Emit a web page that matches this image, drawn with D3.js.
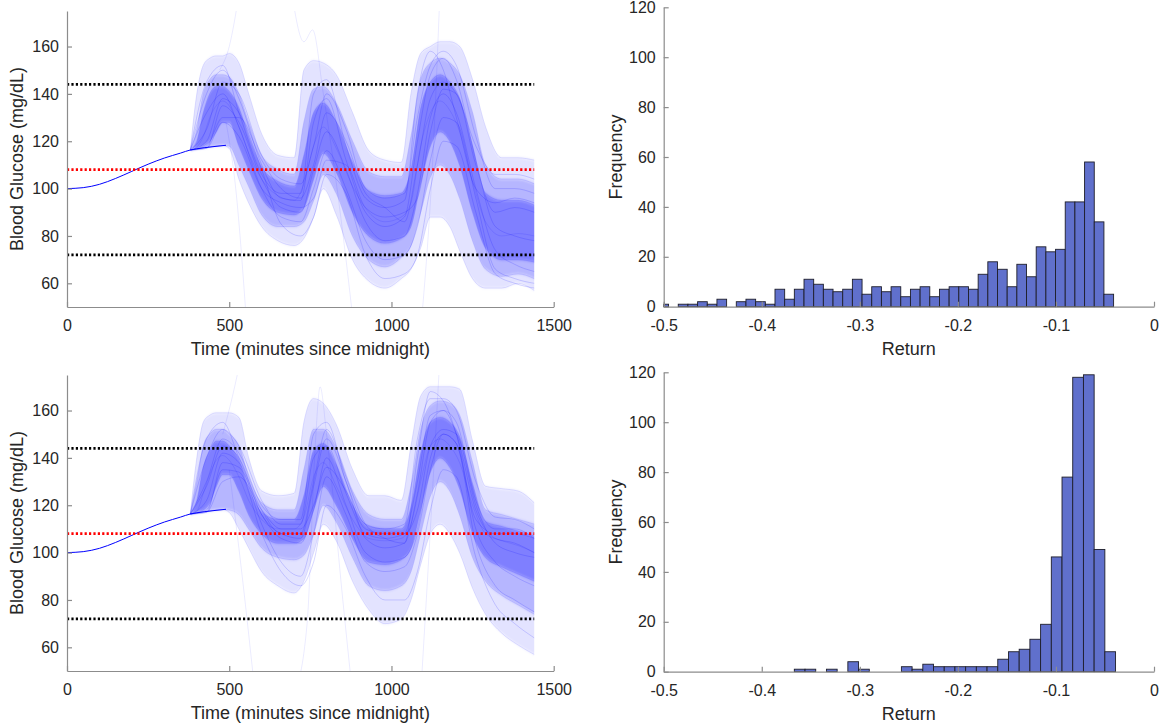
<!DOCTYPE html>
<html>
<head>
<meta charset="utf-8">
<script src="https://cdn.jsdelivr.net/npm/d3@7"></script>
<style>
  body { margin: 0; background: #fff; }
  svg { font-family: "Liberation Sans", Arial, sans-serif; }
</style>
</head>
<body>
<svg id="chart" width="1163" height="725"></svg>
<script>
// ---- data ----
const timeTicks = [0, 500, 1000, 1500];
const glucoseTicks = [60, 80, 100, 120, 140, 160];
const freqTicks = [0, 20, 40, 60, 80, 100, 120];
const returnTicks = [-0.5, -0.4, -0.3, -0.2, -0.1, 0];
const targetLevels = [144, 108, 72];

// shared pre-meal curve (minutes, mg/dL)
const baseTime = [0, 50, 100, 150, 200, 250, 300, 350, 380, 400, 450, 490];
const baseGlucose = [100, 100.4, 101.8, 104.3, 107.3, 110.3, 112.9, 115, 116.3, 116.8, 117.7, 118.3];

// spread of the simulated trajectories (min / p10 / p25 / p50 / p75 / p90 / max)
const bandTime = [380, 400, 420, 440, 460, 480, 500, 530, 560, 600, 650, 700, 730, 760, 790, 830, 880, 930, 980, 1030, 1060, 1090, 1120, 1150, 1180, 1210, 1250, 1290, 1340, 1390, 1440];

const topMax = [116.3, 140, 152, 155, 156, 156, 157, 153, 140, 123, 114, 113, 150, 154, 153, 148, 132, 116, 112, 111, 140, 157, 160, 162, 162, 160, 146, 126, 113, 113, 112];
const topP90 = [116.3, 125, 140, 146, 148, 148, 147, 140, 128, 114, 108, 106, 128, 142, 143, 136, 120, 107, 105, 105, 122, 146, 153, 155, 153, 148, 132, 110, 104, 104, 102];
const topP75 = [116.3, 120, 132, 140, 143, 143, 141, 134, 122, 109, 103, 101, 114, 132, 136, 128, 111, 99, 97, 98, 108, 134, 145, 148, 145, 138, 118, 98, 95, 95, 93];
const topP50 = [116.3, 117.5, 122, 130, 135, 137, 135, 126, 115, 104, 97, 95, 102, 118, 126, 117, 101, 90, 86, 88, 94, 118, 132, 137, 133, 124, 103, 86, 80, 81, 80];
const topP25 = [116.3, 117, 118, 120, 124, 128, 128, 118, 108, 96, 90, 89, 92, 104, 115, 107, 90, 80, 77, 79, 84, 102, 118, 124, 120, 110, 90, 75, 70, 70, 69];
const topP10 = [116.3, 116.8, 117.2, 117.6, 118, 118.2, 118, 110, 101, 89, 84, 84, 86, 95, 106, 98, 80, 70, 67, 71, 76, 90, 105, 110, 106, 96, 78, 66, 63, 64, 62];
const topMin = [116.3, 116.8, 117.2, 117.6, 118, 118.2, 117, 104, 94, 84, 78, 76, 79, 88, 100, 89, 70, 61, 58, 62, 66, 75, 88, 88, 84, 74, 62, 58, 58, 60, 57];

const bottomMax = [116.3, 140, 155, 158, 159, 159, 159, 157, 140, 126, 124, 125, 155, 165, 163, 154, 135, 124, 124, 122, 145, 166, 170, 170, 170, 169, 147, 128, 127, 126, 121];
const bottomP90 = [116.3, 130, 145, 150, 152, 152, 150, 145, 132, 121, 118, 118, 135, 152, 152, 144, 126, 116, 114, 114, 128, 152, 162, 164, 163, 158, 138, 118, 116, 114, 112];
const bottomP75 = [116.3, 122, 136, 143, 147, 147, 145, 139, 127, 117, 114, 114, 124, 143, 146, 137, 120, 111, 110, 110, 119, 142, 155, 157, 155, 149, 129, 113, 111, 109, 107];
const bottomP50 = [116.3, 117.5, 125, 133, 139, 141, 139, 132, 122, 114, 110, 110, 115, 132, 138, 128, 114, 106, 105, 106, 112, 130, 145, 148, 145, 138, 120, 108, 105, 103, 100];
const bottomP25 = [116.3, 117, 118, 121, 128, 133, 133, 126, 116, 108, 104, 104, 106, 118, 128, 120, 106, 96, 95, 97, 102, 118, 134, 140, 136, 127, 108, 98, 94, 91, 88];
const bottomP10 = [116.3, 116.8, 117.2, 117.6, 118, 118.2, 118, 116, 110, 102, 98, 97, 99, 108, 120, 113, 98, 86, 84, 86, 92, 108, 124, 130, 126, 116, 98, 88, 82, 78, 74];
const bottomMin = [116.3, 116.8, 117.2, 117.6, 118, 118.2, 117, 110, 102, 92, 86, 83, 88, 100, 112, 105, 88, 76, 70, 72, 80, 95, 108, 112, 108, 100, 85, 74, 66, 61, 57];

// a handful of individual trajectories
const traceTime = [380, 430, 480, 530, 600, 660, 720, 760, 800, 860, 920, 980, 1040, 1080, 1120, 1160, 1200, 1260, 1320, 1380, 1440];
const topTraces = [
  [116.3, 140, 150, 138, 110, 96, 95, 128, 138, 112, 90, 84, 88, 120, 148, 155, 146, 112, 84, 80, 78],
  [116.3, 117, 135, 128, 104, 92, 90, 108, 124, 108, 86, 78, 80, 98, 130, 140, 132, 100, 74, 68, 65],
  [116.3, 132, 140, 126, 100, 88, 86, 100, 116, 100, 78, 70, 72, 84, 112, 130, 128, 96, 66, 62, 60],
  [116.3, 125, 145, 140, 114, 104, 102, 118, 140, 125, 100, 96, 98, 130, 152, 158, 152, 122, 100, 100, 98],
  [116.3, 117, 128, 122, 100, 94, 92, 96, 112, 110, 92, 88, 90, 96, 124, 142, 140, 110, 90, 92, 90],
  [116.3, 145, 152, 132, 106, 98, 98, 140, 146, 118, 96, 92, 95, 140, 158, 150, 130, 100, 94, 96, 94],
  [116.3, 120, 138, 132, 108, 85, 80, 88, 106, 98, 72, 62, 64, 72, 100, 120, 118, 90, 64, 60, 58],
  [116.3, 118, 130, 130, 112, 100, 96, 110, 132, 120, 98, 92, 86, 110, 138, 145, 140, 118, 106, 106, 104]
];
const bottomTraces = [
  [116.3, 140, 152, 145, 122, 112, 112, 140, 145, 125, 108, 106, 108, 130, 158, 160, 150, 118, 106, 104, 100],
  [116.3, 117, 138, 136, 116, 106, 104, 118, 140, 120, 100, 96, 98, 110, 140, 150, 146, 110, 96, 90, 86],
  [116.3, 130, 148, 142, 120, 114, 114, 150, 155, 130, 112, 110, 112, 148, 165, 165, 160, 130, 115, 114, 110],
  [116.3, 122, 142, 138, 112, 96, 90, 108, 132, 116, 96, 92, 94, 108, 135, 150, 146, 104, 86, 80, 75],
  [116.3, 117, 130, 132, 118, 110, 110, 120, 136, 126, 110, 108, 108, 118, 145, 152, 150, 120, 104, 100, 98],
  [116.3, 148, 155, 140, 118, 108, 108, 130, 152, 132, 112, 106, 104, 140, 168, 164, 150, 114, 108, 108, 106],
  [116.3, 118, 135, 134, 108, 92, 86, 96, 120, 110, 90, 80, 80, 92, 118, 135, 132, 98, 78, 70, 64],
  [116.3, 128, 145, 140, 116, 108, 106, 128, 148, 130, 106, 102, 104, 125, 155, 160, 155, 122, 110, 110, 106]
];
// stray trajectories that leave the plotted range
const topOutliers = [
  [[470, 150], [500, 160], [530, 182]],
  [[490, 128], [520, 100], [555, 40]],
  [[690, 185], [730, 162], [757, 167], [790, 140], [860, 70], [885, 40]],
  [[1090, 40], [1130, 120], [1150, 185]]
];
const bottomOutliers = [
  [[480, 150], [510, 166], [540, 185]],
  [[500, 135], [540, 90], [580, 40]],
  [[700, 40], [740, 70], [765, 145], [780, 170], [800, 150], [850, 80], [880, 40]],
  [[1090, 40], [1120, 110], [1150, 185]]
];

// histograms of the return
const topBinStart = -0.5049;
const topBinWidth = 0.009866;
const topCounts = [1, 0, 1, 1, 2, 1, 3, 0, 2, 3, 2, 1, 7, 3, 7, 11, 9, 7, 6, 7, 11, 5, 8, 6, 8, 4, 7, 8, 4, 7, 8, 8, 7, 13, 18, 15, 8, 17, 12, 24, 22, 23, 42, 42, 58, 34, 5];
const bottomBinStart = -0.3668;
const bottomBinWidth = 0.01092;
const bottomCounts = [1, 1, 0, 1, 0, 4, 1, 0, 0, 0, 2, 1, 3, 2, 2, 2, 2, 2, 2, 5, 8, 9, 13, 19, 46, 78, 118, 119, 49, 8];

// ---- layout ----
const boxes = {
  glucoseTop: {left: 67, right: 553.7, top: 11, bottom: 307},
  glucoseBottom: {left: 67, right: 553.7, top: 375, bottom: 671},
  histTop: {left: 663.7, right: 1154, top: 7.3, bottom: 306.7},
  histBottom: {left: 663.7, right: 1154, top: 372.3, bottom: 671.7}
};
const axisColor = "#8c8c8c";
const textColor = "#262626";

const svg = d3.select("#chart");
const defs = svg.append("defs");
// vertical-only softening so the band ends at 1440 stay crisp
defs.append("filter")
    .attr("id", "soft")
    .attr("x", "0%").attr("y", "-5%")
    .attr("width", "100%").attr("height", "110%")
  .append("feGaussianBlur")
    .attr("stdDeviation", "0 1.5");

function styleAxis(g) {
  g.select(".domain").attr("stroke", axisColor).attr("stroke-width", 1.2);
  g.selectAll(".tick line").attr("stroke", axisColor).attr("stroke-width", 1.2);
  g.selectAll(".tick text").attr("fill", textColor).attr("font-size", 16);
  g.attr("font-family", null);
}

function drawAxes(box, x, y, xTicks, yTicks, xFmt, xLabel, yLabel, yLabelX) {
  svg.append("g")
      .attr("transform", `translate(0, ${box.bottom})`)
      .call(d3.axisBottom(x).tickValues(xTicks).tickFormat(xFmt)
        .tickSizeInner(-5).tickSizeOuter(0).tickPadding(13))
      .call(styleAxis);
  svg.append("g")
      .attr("transform", `translate(${box.left}, 0)`)
      .call(d3.axisLeft(y).tickValues(yTicks).tickFormat(d3.format("d"))
        .tickSizeInner(-5).tickSizeOuter(0).tickPadding(8))
      .call(styleAxis);
  svg.append("text")
      .attr("x", (box.left + box.right) / 2)
      .attr("y", box.bottom + 42)
      .attr("text-anchor", "middle")
      .attr("dominant-baseline", "central")
      .attr("font-size", 18)
      .attr("fill", textColor)
      .text(xLabel);
  svg.append("text")
      .attr("transform", `translate(${yLabelX}, ${(box.top + box.bottom) / 2}) rotate(-90)`)
      .attr("text-anchor", "middle")
      .attr("dominant-baseline", "central")
      .attr("font-size", 18)
      .attr("fill", textColor)
      .text(yLabel);
}

function drawGlucose(id, box, bands, traces, outliers) {
  const x = d3.scaleLinear().domain([0, 1500]).range([box.left, box.right]);
  const y = d3.scaleLinear().domain([50, 175]).range([box.bottom, box.top]);

  defs.append("clipPath")
      .attr("id", id)
    .append("rect")
      .attr("x", box.left)
      .attr("y", box.top)
      .attr("width", box.right - box.left)
      .attr("height", box.bottom - box.top);
  const g = svg.append("g").attr("clip-path", `url(#${id})`);

  const area = (lo, hi) => d3.area()
      .x((d, i) => x(bandTime[i]))
      .y0((d, i) => y(lo[i]))
      .y1((d, i) => y(hi[i]))
      .curve(d3.curveMonotoneX)(bandTime);

  const bandGroup = g.append("g").attr("filter", "url(#soft)");
  [[bands.min, bands.max, 0.11], [bands.p10, bands.p90, 0.2], [bands.p25, bands.p75, 0.3]]
    .forEach(([lo, hi, op]) => {
      bandGroup.append("path")
          .attr("d", area(lo, hi))
          .attr("fill", "#0000ff")
          .attr("fill-opacity", op);
    });

  const bandLine = d3.line()
      .x((d, i) => x(bandTime[i]))
      .y(d => y(d))
      .curve(d3.curveMonotoneX);
  [bands.min, bands.p10, bands.p25, bands.p50, bands.p75, bands.p90, bands.max].forEach(arr => {
    g.append("path")
        .attr("d", bandLine(arr))
        .attr("fill", "none")
        .attr("stroke", "#0000ff")
        .attr("stroke-opacity", 0.14)
        .attr("stroke-width", 0.8);
  });

  const traceLine = d3.line()
      .x((d, i) => x(traceTime[i]))
      .y(d => y(d))
      .curve(d3.curveMonotoneX);
  g.selectAll(".trace")
    .data(traces)
    .join("path")
      .attr("class", "trace")
      .attr("d", traceLine)
      .attr("fill", "none")
      .attr("stroke", "#0000ff")
      .attr("stroke-opacity", 0.2)
      .attr("stroke-width", 0.8);

  const pairLine = d3.line()
      .x(d => x(d[0]))
      .y(d => y(d[1]))
      .curve(d3.curveMonotoneX);
  g.selectAll(".outlier")
    .data(outliers)
    .join("path")
      .attr("class", "outlier")
      .attr("d", pairLine)
      .attr("fill", "none")
      .attr("stroke", "#0000ff")
      .attr("stroke-opacity", 0.1)
      .attr("stroke-width", 0.8);

  g.append("path")
      .datum(baseTime.map((t, i) => [t, baseGlucose[i]]))
      .attr("d", pairLine)
      .attr("fill", "none")
      .attr("stroke", "#0000ff")
      .attr("stroke-width", 1);

  targetLevels.forEach((v, i) => {
    g.append("line")
        .attr("x1", x(0))
        .attr("x2", x(1440))
        .attr("y1", y(v))
        .attr("y2", y(v))
        .attr("stroke", i === 1 ? "#ff0000" : "#000000")
        .attr("stroke-width", 2.6)
        .attr("stroke-dasharray", "2.2 2.2");
  });

  drawAxes(box, x, y, timeTicks, glucoseTicks, d3.format("d"),
    "Time (minutes since midnight)", "Blood Glucose (mg/dL)", 17);
}

function drawHistogram(box, binStart, binWidth, counts) {
  const x = d3.scaleLinear().domain([-0.5, 0]).range([box.left, box.right]);
  const y = d3.scaleLinear().domain([0, 120]).range([box.bottom, box.top]);
  const bins = counts.map((c, i) => ({
    x0: Math.max(-0.5, binStart + i * binWidth),
    x1: binStart + (i + 1) * binWidth,
    count: c
  })).filter(b => b.count > 0);

  svg.append("g")
    .selectAll("rect")
    .data(bins)
    .join("rect")
      .attr("x", d => x(d.x0))
      .attr("y", d => y(d.count))
      .attr("width", d => x(d.x1) - x(d.x0))
      .attr("height", d => y(0) - y(d.count))
      .attr("fill", "#6070cc")
      .attr("stroke", "#1e1e2a")
      .attr("stroke-width", 0.9);

  drawAxes(box, x, y, returnTicks, freqTicks, d => d === 0 ? "0" : d.toFixed(1),
    "Return", "Frequency", 616);
}

drawGlucose("clipTop", boxes.glucoseTop, {
  min: topMin, p10: topP10, p25: topP25, p50: topP50, p75: topP75, p90: topP90, max: topMax
}, topTraces, topOutliers);
drawGlucose("clipBottom", boxes.glucoseBottom, {
  min: bottomMin, p10: bottomP10, p25: bottomP25, p50: bottomP50, p75: bottomP75, p90: bottomP90, max: bottomMax
}, bottomTraces, bottomOutliers);
drawHistogram(boxes.histTop, topBinStart, topBinWidth, topCounts);
drawHistogram(boxes.histBottom, bottomBinStart, bottomBinWidth, bottomCounts);
</script>
</body>
</html>
